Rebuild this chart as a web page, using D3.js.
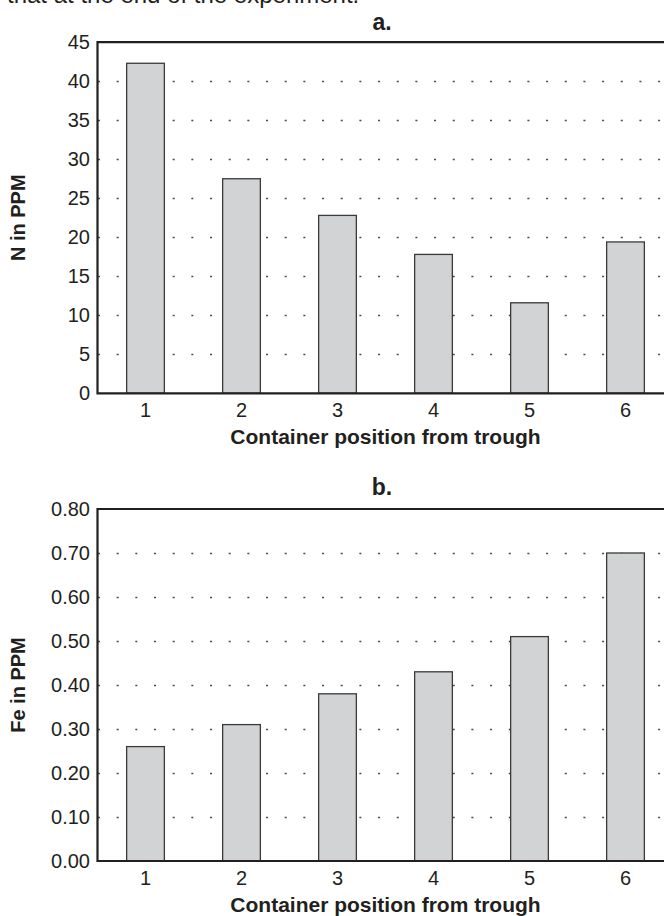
<!DOCTYPE html>
<html>
<head>
<meta charset="utf-8">
<script src="https://cdn.jsdelivr.net/npm/d3@7"></script>
<style>
  html, body { margin: 0; padding: 0; background: #fff; }
  svg { display: block; }
  text { font-family: "Liberation Sans", Arial, Helvetica, sans-serif; fill: #231f20; }
</style>
</head>
<body>
<svg id="chart" width="664" height="916"></svg>
<script>
// ---- data ----
const categories = ["1", "2", "3", "4", "5", "6"];
const nValues = [42.3, 27.5, 22.8, 17.8, 11.6, 19.4];
const feValues = [0.26, 0.31, 0.38, 0.43, 0.51, 0.70];
const nTicks = [0, 5, 10, 15, 20, 25, 30, 35, 40, 45];
const feTicks = [0, 0.1, 0.2, 0.3, 0.4, 0.5, 0.6, 0.7, 0.8];
const xTitle = "Container position from trough";
const introText = "that at the end of the experiment.";

const svg = d3.select("#chart");

// running text of the page, cut off at the top as in the reference
svg.append("text")
  .attr("x", 7).attr("y", 3)
  .style("font-size", "24px")
  .text(introText);

const x = d3.scaleBand()
  .domain(categories)
  .range([97.5, 673.5])
  .paddingInner(0.607)
  .paddingOuter(0.3035);

function panel(opts) {
  const { values, ticks, top, bottom, title, titleY, yTitle, fmt } = opts;
  const g = svg.append("g");
  const y = d3.scaleLinear()
    .domain([ticks[0], ticks[ticks.length - 1]])
    .range([bottom, top]);

  // dotted grid
  g.append("g").selectAll("line")
    .data(ticks.slice(1, -1))
    .join("line")
    .attr("x1", x.range()[0]).attr("x2", x.range()[1])
    .attr("y1", d => Math.round(y(d)) + 0.5).attr("y2", d => Math.round(y(d)) + 0.5)
    .attr("stroke", "#4a4a4a")
    .attr("stroke-width", 1.6)
    .attr("stroke-dasharray", "2 16.67")
    .attr("stroke-dashoffset", -0.5);

  // bars
  g.append("g").selectAll("rect")
    .data(values)
    .join("rect")
    .attr("x", (d, i) => x(categories[i]))
    .attr("width", x.bandwidth())
    .attr("y", d => y(d))
    .attr("height", d => y(ticks[0]) - y(d))
    .attr("fill", "#d2d3d5")
    .attr("stroke", "#3a3a3a")
    .attr("stroke-width", 1.3);

  // y axis
  const ya = g.append("g")
    .attr("transform", `translate(${x.range()[0]},0)`)
    .call(d3.axisLeft(y).tickValues(ticks).tickFormat(fmt).tickSize(0).tickPadding(7.5));
  ya.select(".domain").remove();
  ya.selectAll("text").style("font-size", "20px").style("font-family", "'Liberation Sans', Arial, sans-serif").attr("fill", "#231f20");

  // x axis
  const xa = g.append("g")
    .attr("transform", `translate(0,${bottom})`)
    .call(d3.axisBottom(x).tickSize(0).tickPadding(10));
  xa.select(".domain").remove();
  xa.selectAll("text").style("font-size", "20px").style("font-family", "'Liberation Sans', Arial, sans-serif").attr("fill", "#231f20");

  // frame: top, left, bottom
  const x0 = x.range()[0], x1 = x.range()[1];
  const frame = d3.path();
  frame.moveTo(x1, top); frame.lineTo(x0, top); frame.lineTo(x0, bottom); frame.lineTo(x1, bottom);
  g.append("path").attr("d", frame.toString())
    .attr("fill", "none").attr("stroke", "#231f20").attr("stroke-width", 2.2);

  // titles
  g.append("text")
    .attr("x", 382).attr("y", titleY)
    .attr("text-anchor", "middle")
    .style("font-size", "23px").style("font-weight", "bold")
    .text(title);

  g.append("text")
    .attr("x", (x0 + x1) / 2).attr("y", bottom + 50.5)
    .attr("text-anchor", "middle")
    .style("font-size", "21px").style("font-weight", "bold")
    .text(xTitle);

  g.append("text")
    .attr("transform", `translate(25,${(top + bottom) / 2}) rotate(-90)`)
    .attr("text-anchor", "middle")
    .style("font-size", "20px").style("font-weight", "bold")
    .text(yTitle);
}

panel({
  values: nValues, ticks: nTicks, top: 42.2, bottom: 393.3,
  title: "a.", titleY: 29.5, yTitle: "N in PPM", fmt: d3.format("d")
});

panel({
  values: feValues, ticks: feTicks, top: 509, bottom: 861,
  title: "b.", titleY: 494.5, yTitle: "Fe in PPM", fmt: d3.format(".2f")
});
</script>
</body>
</html>
